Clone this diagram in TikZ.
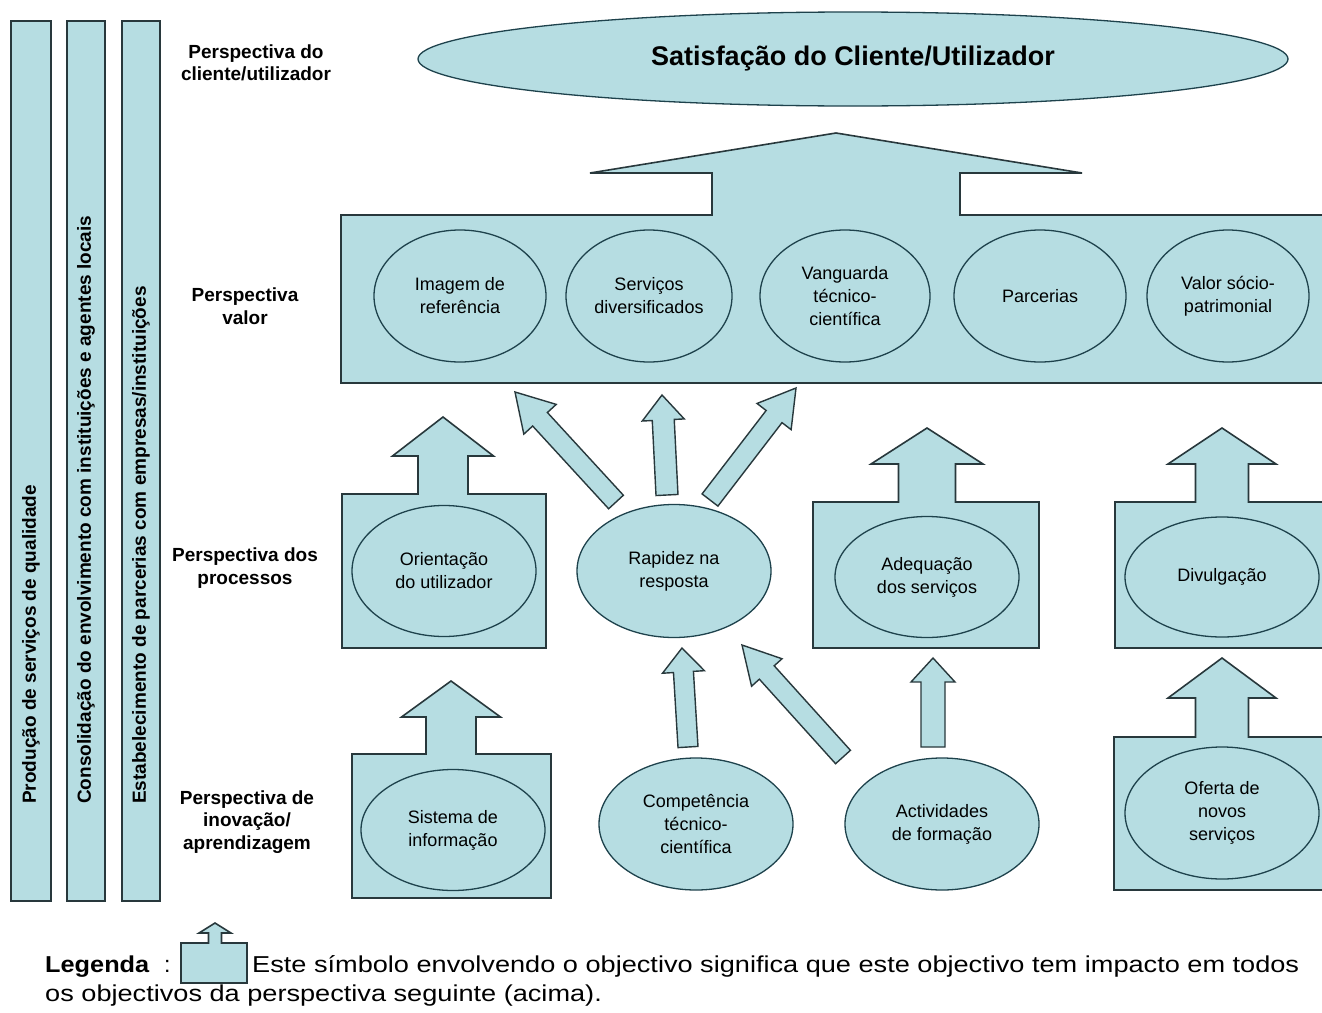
\documentclass[tikz,border=0pt]{standalone}
\usepackage{fontspec}
\setmainfont{Liberation Sans}
\usetikzlibrary{shapes.geometric,calc}
\definecolor{fillc}{RGB}{182,221,226}
\definecolor{edgec}{RGB}{40,56,60}
\definecolor{elc}{RGB}{30,66,76}
% fat outlined arrow from coordinate #1 (tail) to #2 (tip): shaft half width #3, head half width #4, head length #5
\newcommand\fatarrow[5]{%
  \draw[fatarr] ($(#1)!#3!90:(#2)$) -- ($(#2)!#5!(#1)!#3!-90:(#1)$) -- ($(#2)!#5!(#1)!#4!-90:(#1)$) -- (#2)
   -- ($(#2)!#5!(#1)!#4!90:(#1)$) -- ($(#2)!#5!(#1)!#3!90:(#1)$) -- ($(#1)!#3!-90:(#2)$) -- cycle;}
% impact box: x1, x2, ytop, ybot, arrow centre x, shaft half width, head half width, head base y, tip y
\newcommand\impact[9]{%
  \draw[box] (#1,#3) -- ({#5-#6},#3) -- ({#5-#6},#8) -- ({#5-#7},#8) -- (#5,#9) -- ({#5+#7},#8)
   -- ({#5+#6},#8) -- ({#5+#6},#3) -- (#2,#3) -- (#2,#4) -- (#1,#4) -- cycle;}
\begin{document}
\begin{tikzpicture}[x=1pt,y=-1pt,
  box/.style={draw=edgec, fill=fillc, line width=1.6pt, line join=miter},
  obj/.style={ellipse, draw=elc, fill=fillc, line width=1.3pt, inner sep=0pt, align=center,
              font=\fontsize{18}{23}\selectfont},
  fatarr/.style={draw=edgec, fill=fillc, line width=1.4pt, line join=miter},
  persp/.style={align=center, font=\bfseries\fontsize{19}{22.5}\selectfont, inner sep=0pt},
  bartext/.style={font=\bfseries\fontsize{19}{22}\selectfont, inner sep=0pt, rotate=90, anchor=west},
  legtext/.style={anchor=base west, inner sep=0pt, font=\fontsize{23}{26}\selectfont}
]
\useasboundingbox (0,0) rectangle (1322,1012);
\fill[white] (0,0) rectangle (1322,1012);
\begin{scope}
\clip (0,0) rectangle (1322,1012);

% vertical strategic bars
\draw[box] (11,21) rectangle (51,901);
\draw[box] (67,21) rectangle (105,901);
\draw[box] (122,21) rectangle (160,901);
\node[bartext] (b1) at (31,804) {Produção de serviços de qualidade};
\node[bartext] (b2) at (86,804) {Consolidação do envolvimento com instituições e agentes locais};
\node[bartext] (b3) at (141,804) {Estabelecimento de parcerias com empresas/instituições};

% perspective labels
\node[persp] (l1) at (256,63) {Perspectiva do\\cliente/utilizador};
\node[persp] (l2) at (245,306) {Perspectiva\\valor};
\node[persp] (l3) at (245,568) {Perspectiva dos\\processos};
\node[persp] (l4) at (247,822) {Perspectiva de\\inovação/\\aprendizagem};

% client satisfaction
\node[obj, minimum width=870, minimum height=94, font=\bfseries\fontsize{27}{30}\selectfont] (sat) at (853,59)
  {Satisfação do Cliente/Utilizador};

% value perspective
\impact{341}{1345}{215}{383}{836}{124}{246}{173}{133}
\node[obj, minimum width=172, minimum height=132] (v1) at (460,296) {Imagem de\\referência};
\node[obj, minimum width=166, minimum height=132] (v2) at (649,296) {Serviços\\diversificados};
\node[obj, minimum width=170, minimum height=132] (v3) at (845,296) {Vanguarda\\técnico-\\científica};
\node[obj, minimum width=172, minimum height=132] (v4) at (1040,296) {Parcerias};
\node[obj, minimum width=162, minimum height=132] (v5) at (1228,296) {Valor sócio-\\patrimonial};

% process perspective
\impact{342}{546}{494}{648}{443}{25}{50.5}{456}{417}
\impact{813}{1039}{502}{648}{927}{28.5}{56}{464}{428}
\impact{1115}{1345}{502}{648}{1222}{26.5}{54}{464}{428}
\node[obj, minimum width=184, minimum height=131] (p1) at (444,571) {Orientação\\do utilizador};
\node[obj, minimum width=194, minimum height=133] (p2) at (674,571) {Rapidez na\\resposta};
\node[obj, minimum width=184, minimum height=121] (p3) at (927,577) {Adequação\\dos serviços};
\node[obj, minimum width=194, minimum height=120] (p4) at (1222,577) {Divulgação};

% innovation perspective
\impact{352}{551}{754}{898}{451}{25}{49.5}{717}{681}
\impact{1114}{1345}{737}{890}{1222}{26.5}{54}{698}{658}
\node[obj, minimum width=184, minimum height=121] (i1) at (453,830) {Sistema de\\informação};
\node[obj, minimum width=194, minimum height=132] (i2) at (696,824) {Competência\\técnico-\\científica};
\node[obj, minimum width=194, minimum height=132] (i3) at (942,824) {Actividades\\de formação};
\node[obj, minimum width=194, minimum height=132] (i4) at (1222,813) {Oferta de\\novos\\serviços};

% arrow end points
\coordinate (r1t) at (616,502); \coordinate (r1h) at (515,392);
\coordinate (r2t) at (667,495); \coordinate (r2h) at (662,395);
\coordinate (r3t) at (710,500); \coordinate (r3h) at (796,388);
\coordinate (c1t) at (688,747); \coordinate (c1h) at (682,648);
\coordinate (a1t) at (843,757); \coordinate (a1h) at (742,645);
\coordinate (a2t) at (933,747); \coordinate (a2h) at (933,658);
\fatarrow{r1t}{r1h}{10pt}{22pt}{37pt}
\fatarrow{r2t}{r2h}{11pt}{21pt}{25pt}
\fatarrow{r3t}{r3h}{10pt}{21.5pt}{36pt}
\fatarrow{c1t}{c1h}{10pt}{21pt}{24pt}
\fatarrow{a1t}{a1h}{10pt}{20.5pt}{37pt}
\fatarrow{a2t}{a2h}{12pt}{22pt}{24pt}

% legend
\impact{181}{247}{943}{983}{215}{6.5}{16}{933}{923}
\node[legtext, font=\bfseries\fontsize{23}{26}\selectfont, xscale=1.1] (legb) at (45,972) {Legenda};
\node[legtext] (legc) at (164,972) {:};
\node[legtext, xscale=1.18] (leg1) at (252,972) {Este símbolo envolvendo o objectivo significa que este objectivo tem impacto em todos};
\node[legtext, xscale=1.18] (leg2) at (45,1001) {os objectivos da perspectiva seguinte (acima).};
\end{scope}
\end{tikzpicture}
\end{document}
